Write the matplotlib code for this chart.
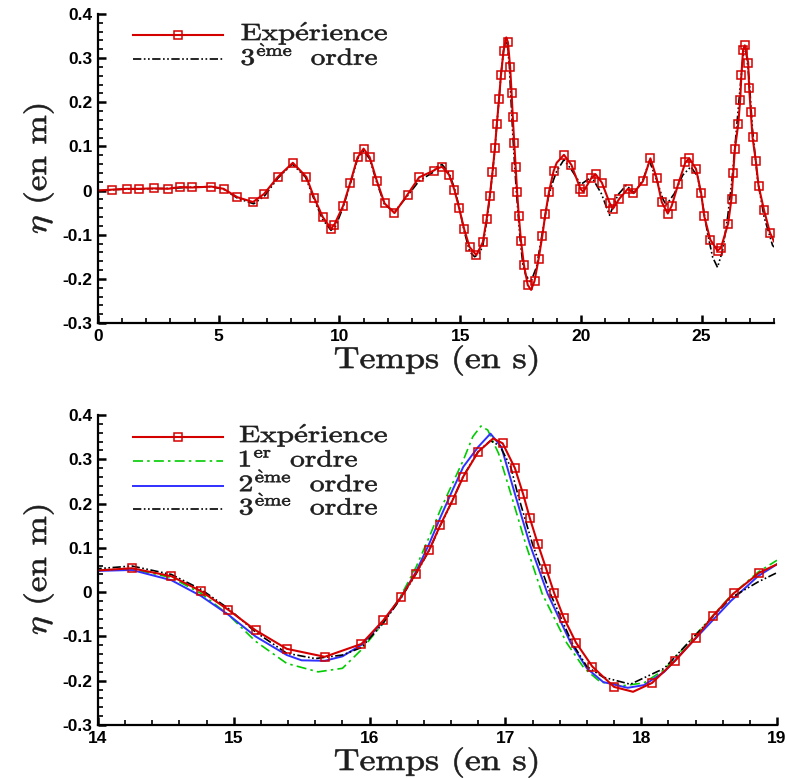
import numpy as np
import matplotlib
matplotlib.use("Agg")
from matplotlib import pyplot as plt
from matplotlib.ticker import MultipleLocator
from matplotlib.textpath import TextPath
from matplotlib.patches import PathPatch
from matplotlib.font_manager import FontProperties
from matplotlib.transforms import Affine2D
from matplotlib.lines import Line2D

plt.rcParams['mathtext.fontset'] = 'cm'

# experiment (free surface elevation, m) vs time (s)
t_exp = [0.0, 0.57, 1.2, 1.7, 2.3, 2.9, 3.4, 3.9, 4.7, 5.2, 5.77, 6.42, 6.87, 7.45,
         8.07, 8.63, 8.96, 9.31, 9.65, 9.79, 10.15, 10.45, 10.75, 11.0, 11.25, 11.55,
         11.87, 12.28, 12.82, 13.3, 13.9,
         14.0, 14.25, 14.54, 14.76, 14.96, 15.16, 15.39, 15.67, 15.94, 16.10, 16.23,
         16.34, 16.44, 16.52, 16.61, 16.69, 16.80, 16.91, 16.98, 17.07, 17.13, 17.18,
         17.24, 17.30, 17.36, 17.43, 17.52, 17.64, 17.80, 17.94, 18.08, 18.25, 18.40,
         18.53, 18.68, 18.87, 19.0,
         19.3, 19.61, 19.98, 20.1, 20.43, 20.61, 20.87, 21.19, 21.33, 21.6, 21.95,
         22.18, 22.57, 22.88, 23.14, 23.35, 23.6, 23.76, 24.04, 24.33, 24.49, 24.77,
         24.98, 25.11, 25.36, 25.66, 25.8, 26.1, 26.24, 26.31, 26.38, 26.52, 26.6,
         26.65, 26.72, 26.79, 26.93, 26.97, 27.04, 27.11, 27.25, 27.36, 27.59, 27.83, 28.0]
eta_exp = [0.0, 0.002, 0.004, 0.004, 0.005, 0.004, 0.008, 0.007, 0.009, 0.004, -0.015,
           -0.026, -0.008, 0.031, 0.063, 0.031, -0.017, -0.060, -0.086, -0.077, -0.035,
           0.018, 0.075, 0.095, 0.076, 0.022, -0.029, -0.051, -0.009, 0.030, 0.045,
           0.049, 0.054, 0.036, 0.002, -0.040, -0.086, -0.128, -0.146, -0.117, -0.064,
           -0.012, 0.042, 0.096, 0.151, 0.207, 0.261, 0.317, 0.347, 0.336, 0.280, 0.222,
           0.167, 0.108, 0.053, -0.003, -0.058, -0.114, -0.168, -0.214, -0.225, -0.205,
           -0.155, -0.104, -0.053, -0.003, 0.044, 0.063,
           0.081, 0.058, 0.004, -0.003, 0.028, 0.037, 0.018, -0.028, -0.041, -0.018,
           0.004, -0.006, 0.021, 0.073, 0.028, -0.026, -0.052, -0.035, 0.016, 0.064,
           0.073, 0.049, -0.005, -0.058, -0.111, -0.136, -0.130, -0.075, -0.018, 0.039,
           0.094, 0.151, 0.206, 0.262, 0.319, 0.329, 0.290, 0.233, 0.177, 0.121, 0.066,
           0.011, -0.045, -0.095, -0.115]
no_symbol_t = [0.0, 14.0, 16.91, 17.94, 19.0, 28.0]

# third order model
t_o3 = [0.0, 1.0, 2.0, 3.0, 4.0, 4.7, 5.2, 5.8, 6.45, 6.9, 7.45, 8.05, 8.6, 8.95, 9.3,
        9.65, 9.85, 10.15, 10.45, 10.75, 11.0, 11.25, 11.55, 11.87, 12.28, 12.82, 13.3,
        13.9,
        14.0, 14.25, 14.54, 14.76, 14.96, 15.16, 15.39, 15.6, 15.8, 15.94, 16.10, 16.23,
        16.34, 16.44, 16.52, 16.61, 16.69, 16.80, 16.89, 16.96, 17.04, 17.09, 17.20,
        17.33, 17.49, 17.60, 17.72, 17.92, 18.17, 18.39, 18.66, 18.86, 19.0,
        19.3, 19.61, 20.0, 20.45, 20.85, 21.19, 21.53, 21.88, 22.22, 22.57, 22.84, 23.14,
        23.39, 23.53, 23.87, 24.22, 24.56, 24.84, 25.04, 25.25, 25.46, 25.66, 25.87,
        26.08, 26.26, 26.42, 26.59, 26.72, 26.84, 26.97, 27.11, 27.32, 27.59, 27.94, 28.0]
eta_o3 = [0.0, 0.003, 0.004, 0.005, 0.008, 0.009, 0.003, -0.018, -0.030, -0.012, 0.028,
          0.060, 0.030, -0.020, -0.065, -0.090, -0.080, -0.038, 0.015, 0.072, 0.090,
          0.072, 0.018, -0.032, -0.048, -0.012, 0.022, 0.042,
          0.053, 0.059, 0.040, 0.006, -0.037, -0.090, -0.138, -0.150, -0.142, -0.125,
          -0.070, -0.014, 0.040, 0.095, 0.150, 0.207, 0.262, 0.318, 0.342, 0.330, 0.282,
          0.222, 0.108, -0.003, -0.114, -0.168, -0.192, -0.208, -0.172, -0.100, -0.013,
          0.023, 0.044,
          0.070, 0.047, 0.014, 0.031, -0.007, -0.056, -0.010, 0.012, -0.005, 0.024,
          0.067, 0.024, -0.018, -0.033, -0.007, 0.035, 0.054, 0.031, -0.029, -0.098,
          -0.151, -0.174, -0.136, -0.060, 0.024, 0.123, 0.229, 0.305, 0.318, 0.252,
          0.138, 0.024, -0.060, -0.124, -0.128]

# first and second order models (zoom window only)
t_o1 = [14.0, 14.25, 14.54, 14.76, 14.96, 15.16, 15.39, 15.62, 15.8, 15.94, 16.10,
        16.23, 16.34, 16.44, 16.52, 16.61, 16.69, 16.76, 16.82, 16.87, 16.95, 17.04,
        17.15, 17.27, 17.45, 17.58, 17.70, 17.87, 18.02, 18.17, 18.39, 18.66, 18.86, 19.0]
eta_o1 = [0.050, 0.052, 0.033, -0.003, -0.051, -0.111, -0.161, -0.180, -0.172, -0.130,
          -0.070, -0.008, 0.055, 0.125, 0.185, 0.245, 0.298, 0.351, 0.375, 0.366, 0.313,
          0.222, 0.108, -0.003, -0.114, -0.172, -0.203, -0.211, -0.205, -0.175, -0.100,
          -0.008, 0.045, 0.072]
t_o2 = [14.0, 14.25, 14.54, 14.76, 14.96, 15.16, 15.39, 15.5, 15.67, 15.8, 15.94, 16.10,
        16.23, 16.34, 16.44, 16.52, 16.61, 16.69, 16.80, 16.89, 16.97, 17.07, 17.18,
        17.31, 17.48, 17.60, 17.72, 17.90, 18.02, 18.17, 18.39, 18.66, 18.86, 19.0]
eta_o2 = [0.048, 0.050, 0.027, -0.009, -0.051, -0.100, -0.142, -0.154, -0.155, -0.145,
          -0.119, -0.066, -0.012, 0.045, 0.110, 0.168, 0.230, 0.283, 0.328, 0.358, 0.328,
          0.222, 0.108, -0.003, -0.114, -0.172, -0.203, -0.216, -0.210, -0.180, -0.108,
          -0.020, 0.036, 0.063]

RED = '#d40000'
GREEN = '#00cc00'
BLUE = '#3030ff'
TXT = '#1e1e1e'
DASH3 = [5, 1.5, 1, 1.5, 1, 1.5]
DASH1 = [6, 2.5, 1.5, 2.5]
H = 778  # figure height in px

lbl_exp = r'$\mathrm{Exp\acute{e}rience}$'
lbl_o1 = r'$\mathit{1}^{\mathrm{er}}\mathrm{\ \ ordre}$'
lbl_o2 = r'$\mathit{2}^{\mathrm{\grave{e}me}}\mathrm{\ \ ordre}$'
lbl_o3 = r'$\mathit{3}^{\mathrm{\grave{e}me}}\mathrm{\ \ ordre}$'

mark_idx = [i for i, t in enumerate(t_exp) if t not in no_symbol_t]
cm_font = FontProperties(family='cmr10')


# Computer Modern text, stretched to a given ink width, placed in pixels
def put_text(fig, s, x0, width, base, em, vertical=False):
    tp = TextPath((0, 0), s, size=em, prop=cm_font)
    ext = tp.get_extents()
    tr = Affine2D().translate(-ext.x0, 0).scale(width / ext.width, 1)
    if vertical:
        tr = tr.rotate_deg(90).translate(base, H - x0)
    else:
        tr = tr.translate(x0, H - base)
    fig.add_artist(PathPatch(tp, transform=tr, fc=TXT, ec=TXT, lw=0.45))


def legend_row(fig, y, x_text, w_text, label, em, **kw):
    ln = Line2D([133, 178, 223], [H - y, H - y, H - y], markevery=[1], **kw)
    ln.set_transform(Affine2D())
    fig.add_artist(ln)
    put_text(fig, label, x_text, w_text, y + 5.5, em)


def style_axes(ax, xmaj, xmin):
    for s in ['top', 'right']:
        ax.spines[s].set_visible(False)
    for s in ['left', 'bottom']:
        ax.spines[s].set_linewidth(1.6)
    ax.yaxis.set_major_locator(MultipleLocator(0.1))
    ax.yaxis.set_minor_locator(MultipleLocator(0.02))
    ax.xaxis.set_major_locator(MultipleLocator(xmaj))
    ax.xaxis.set_minor_locator(MultipleLocator(xmin))
    ax.tick_params(which='major', direction='in', length=6, width=1.8, pad=4)
    ax.tick_params(which='minor', direction='in', length=3.5, width=1.2)
    ax.set_ylim(-0.3, 0.4)
    ax.yaxis.set_major_formatter(plt.FuncFormatter(lambda v, p: '0' if abs(v) < 1e-9 else ('%.1f' % v)))
    ax.xaxis.set_major_formatter(plt.FuncFormatter(lambda v, p: '%d' % round(v)))
    for lab in ax.get_xticklabels() + ax.get_yticklabels():
        lab.set_fontfamily('Liberation Sans')
        lab.set_fontweight('bold')
        lab.set_fontsize(12.5)


fig = plt.figure(figsize=(7.87, 7.78), dpi=100)
ax1 = fig.add_axes([98 / 787, 1 - 323 / H, 676 / 787, 309 / H])
ax2 = fig.add_axes([98 / 787, 1 - 725 / H, 679 / 787, 310 / H])

exp_style = dict(color=RED, lw=1.5, marker='s', ms=6, mfc='none', mew=1.1)
o3_style = dict(color='black', lw=1.2, dashes=DASH3)
o1_style = dict(color=GREEN, lw=1.2, dashes=DASH1)
o2_style = dict(color=BLUE, lw=1.4)

# top: full record
ax1.plot(t_o3, eta_o3, **o3_style)
ax1.plot(t_exp, eta_exp, markevery=mark_idx, **exp_style)
ax1.set_xlim(0, 28)
style_axes(ax1, 5, 1)

# bottom: zoom on the largest wave
ax2.plot(t_o1, eta_o1, **o1_style)
ax2.plot(t_o2, eta_o2, **o2_style)
ax2.plot(t_o3, eta_o3, **o3_style)
ax2.plot(t_exp, eta_exp, markevery=mark_idx, **exp_style)
ax2.set_xlim(14, 19)
style_axes(ax2, 1, 0.2)

# axis titles
put_text(fig, 'Temps (en s)', 335, 202, 368, 30)
put_text(fig, 'Temps (en s)', 335, 202, 770, 30)
put_text(fig, r'$\eta$ (en m)', 233, 128, 46, 30, vertical=True)
put_text(fig, r'$\eta$ (en m)', 634, 128, 46, 30, vertical=True)

# legends
legend_row(fig, 34.7, 241.7, 145, lbl_exp, 23.5, **exp_style)
legend_row(fig, 59.3, 241.7, 135, lbl_o3, 23.5, **o3_style)
legend_row(fig, 436.7, 240, 146.7, lbl_exp, 23.5, **exp_style)
legend_row(fig, 461, 240, 116.7, lbl_o1, 23.5, **o1_style)
legend_row(fig, 485.7, 240, 136.7, lbl_o2, 23.5, **o2_style)
legend_row(fig, 509, 240, 136.7, lbl_o3, 23.5, **o3_style)

fig.savefig('out.png', dpi=100)
